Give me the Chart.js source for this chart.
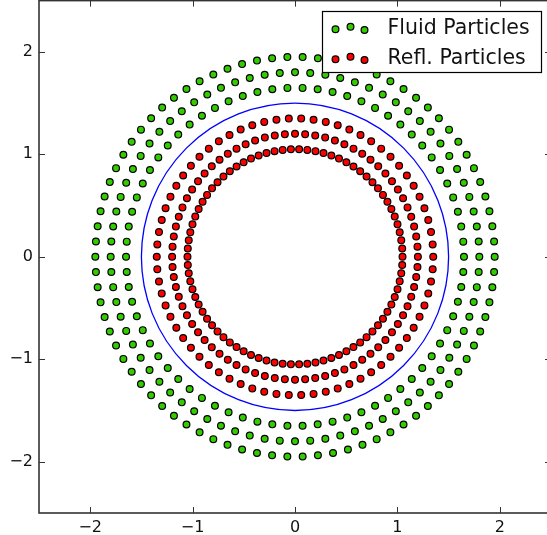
<!DOCTYPE html>
<html>
<head>
<meta charset="utf-8">
<script src="https://cdn.jsdelivr.net/npm/chart.js@4.4.0/dist/chart.umd.min.js"></script>
<style>
    html, body { margin: 0; padding: 0; background: #fff; overflow: hidden; }
    #wrap { width: 547px; height: 535px; overflow: hidden; }
    canvas { display: block; margin-top: -4px; }
</style>
</head>
<body>
<div id="wrap"><canvas id="chart" width="560" height="539"></canvas></div>
<script>
// rings of particles (radius, particles per ring)
const fluidRadii = [1.65, 1.8, 1.95];
const fluidCounts = [70, 76, 82];
const reflRadii = [1.35, 1.2, 1.05];
const reflCounts = [70, 76, 82];
const boundaryRadius = 1.5;
const tickValues = [-2, -1, 0, 1, 2];
const axisRange = [-2.5, 2.5];
const seriesNames = ["Fluid Particles", "Refl. Particles"];
const seriesColors = ["#33cc00", "#ff0000"];

function ringPoints(radii, counts) {
    const pts = [];
    radii.forEach((r, i) => {
        const n = counts[i];
        for (let k = 0; k < n; k++) {
            const a = 2 * Math.PI * k / n;
            pts.push({ x: r * Math.cos(a), y: r * Math.sin(a) });
        }
    });
    return pts;
}

function fmt(v) {
    return String(v).replace("-", "\u2212");
}

// spines, inner ticks, boundary circle and legend box (matplotlib look)
const frame = {
    id: "frame",
    beforeDatasetsDraw(chart) {
        const { ctx, scales: { x, y } } = chart;
        const cx = x.getPixelForValue(0), cy = y.getPixelForValue(0);
        const rx = Math.abs(x.getPixelForValue(boundaryRadius) - cx);
        const ry = Math.abs(y.getPixelForValue(boundaryRadius) - cy);
        ctx.save();
        ctx.strokeStyle = "#0000ff";
        ctx.lineWidth = 1.3;
        ctx.beginPath();
        ctx.ellipse(cx, cy, rx, ry, 0, 0, 2 * Math.PI);
        ctx.stroke();
        ctx.restore();
    },
    afterDatasetsDraw(chart) {
        const { ctx, chartArea: a, scales: { x, y } } = chart;
        ctx.save();
        ctx.strokeStyle = "#333";
        ctx.lineWidth = 1.6;
        ctx.strokeRect(a.left, a.top, a.right - a.left, a.bottom - a.top);
        ctx.lineWidth = 1;
        ctx.beginPath();
        tickValues.forEach(v => {
            const px = Math.round(x.getPixelForValue(v)) + 0.5;
            ctx.moveTo(px, a.bottom); ctx.lineTo(px, a.bottom - 6);
            ctx.moveTo(px, a.top); ctx.lineTo(px, a.top + 6);
            const py = Math.round(y.getPixelForValue(v)) + 0.5;
            ctx.moveTo(a.left, py); ctx.lineTo(a.left + 6, py);
            ctx.moveTo(a.right, py); ctx.lineTo(a.right - 6, py);
        });
        ctx.stroke();

        // legend (canvas is shifted 4px up, so offset by 4)
        const bx = 322.5, by = 15.5, bw = 219, bh = 61;
        ctx.fillStyle = "#fff";
        ctx.fillRect(bx, by, bw, bh);
        ctx.strokeStyle = "#000";
        ctx.lineWidth = 1.2;
        ctx.strokeRect(bx, by, bw, bh);
        const rowY = [32, 62];
        const dx = [13, 28, 42];
        const dy = [1.3, -1.3, 2];
        ctx.font = "20.5px 'DejaVu Sans'";
        ctx.textBaseline = "alphabetic";
        seriesNames.forEach((name, i) => {
            dx.forEach((ox, j) => {
                ctx.beginPath();
                ctx.arc(bx + ox, rowY[i] + dy[j], 3.4, 0, 2 * Math.PI);
                ctx.fillStyle = seriesColors[i];
                ctx.fill();
                ctx.strokeStyle = "#000";
                ctx.lineWidth = 1.2;
                ctx.stroke();
            });
            ctx.fillStyle = "#111";
            ctx.fillText(name, bx + 65, rowY[i] + 5.5);
        });
        ctx.restore();
    }
};

Chart.defaults.font.family = "'DejaVu Sans'";
Chart.defaults.color = "#000";

function axis(isX) {
    return {
        type: "linear",
        min: axisRange[0],
        max: axisRange[1],
        grid: { display: false, drawTicks: false },
        border: { display: false },
        ticks: {
            font: { size: 16 },
            color: "#111",
            padding: isX ? 5 : 6,
            callback: v => fmt(v)
        },
        afterBuildTicks: s => { s.ticks = tickValues.map(v => ({ value: v })); },
        afterFit: s => {
            if (isX) { s.height = 22; s.paddingLeft = 0; s.paddingRight = 0; }
            else { s.width = 39; s.paddingTop = 0; s.paddingBottom = 0; }
        }
    };
}

new Chart(document.getElementById("chart"), {
    type: "scatter",
    data: {
        datasets: [
            {
                label: seriesNames[0],
                data: ringPoints(fluidRadii, fluidCounts),
                backgroundColor: seriesColors[0],
                borderColor: "#000",
                borderWidth: 1.2,
                pointRadius: 3.4,
                pointHoverRadius: 3.4
            },
            {
                label: seriesNames[1],
                data: ringPoints(reflRadii, reflCounts),
                backgroundColor: seriesColors[1],
                borderColor: "#000",
                borderWidth: 1.2,
                pointRadius: 3.4,
                pointHoverRadius: 3.4
            }
        ]
    },
    options: {
        responsive: false,
        devicePixelRatio: 1,
        animation: false,
        layout: { padding: { left: 0, top: 1, right: 9, bottom: 0 } },
        plugins: { legend: { display: false }, tooltip: { enabled: false } },
        scales: { x: axis(true), y: axis(false) }
    },
    plugins: [frame]
});
</script>
</body>
</html>
